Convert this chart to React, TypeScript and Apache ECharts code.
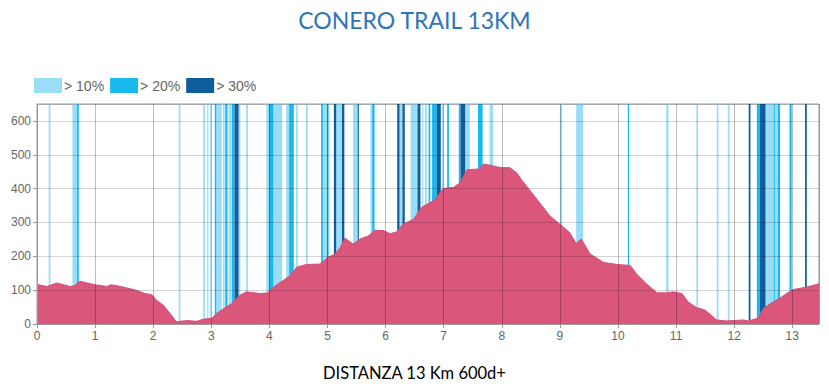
import React, { useEffect, useRef } from "react";
import * as echarts from "echarts";

const titleText = "CONERO TRAIL 13KM";
const subtitleText = "DISTANZA 13 Km 600d+";

const km = [0, 0.17, 0.34, 0.57, 0.64, 0.74, 1.0, 1.2, 1.28, 1.49, 1.72, 1.86, 1.97, 2.06, 2.17, 2.29, 2.4, 2.58, 2.75, 2.86, 3.01, 3.09, 3.26, 3.35, 3.49, 3.61, 3.84, 3.98, 4.07, 4.24, 4.35, 4.47, 4.64, 4.87, 5.01, 5.13, 5.22, 5.3, 5.44, 5.56, 5.7, 5.82, 5.96, 6.08, 6.19, 6.3, 6.48, 6.62, 6.76, 6.85, 6.99, 7.17, 7.28, 7.4, 7.6, 7.69, 7.83, 7.97, 8.14, 8.26, 8.34, 8.46, 8.63, 8.83, 9.0, 9.17, 9.28, 9.37, 9.52, 9.75, 9.98, 10.21, 10.32, 10.49, 10.67, 10.84, 10.95, 11.1, 11.21, 11.35, 11.5, 11.7, 11.87, 12.16, 12.24, 12.41, 12.5, 12.67, 12.79, 12.9, 13.02, 13.25, 13.46];
const elev = [117, 111, 121, 111, 113, 126, 116, 111, 116, 109, 99, 90, 87, 70, 56, 31, 7, 10, 8, 14, 17, 31, 51, 60, 85, 95, 90, 92, 109, 129, 142, 168, 176, 177, 197, 207, 226, 254, 236, 251, 260, 277, 276, 267, 272, 295, 309, 345, 358, 368, 400, 404, 417, 456, 458, 473, 468, 462, 462, 446, 426, 400, 363, 319, 295, 270, 238, 251, 207, 182, 176, 173, 148, 119, 92, 92, 95, 90, 65, 49, 41, 12, 9, 12, 9, 17, 46, 65, 77, 90, 102, 109, 119];

const bands10 = [[0.2, 0.23], [0.61, 0.69], [2.44, 2.47], [2.86, 2.89], [2.93, 2.95], [2.98, 3.0], [3.1, 3.18], [3.2, 3.23], [3.3, 3.34], [3.47, 3.5], [3.6, 3.63], [3.95, 3.99], [4.07, 4.22], [4.29, 4.34], [4.46, 4.49], [4.63, 4.66], [4.92, 4.99], [5.15, 5.25], [5.44, 5.52], [5.74, 5.77], [6.24, 6.29], [6.43, 6.55], [6.63, 6.65], [6.68, 6.71], [6.97, 7.0], [7.37, 7.45], [7.79, 7.85], [9.0, 9.04], [9.28, 9.4], [10.83, 10.87], [11.35, 11.38], [11.7, 11.73], [11.89, 11.92], [12.54, 12.68], [12.7, 12.75], [12.94, 12.96]];
const bands20 = [[0.69, 0.72], [3.06, 3.09], [3.24, 3.28], [3.35, 3.4], [3.99, 4.07], [4.34, 4.42], [4.89, 4.92], [4.99, 5.02], [5.77, 5.81], [6.74, 6.77], [6.8, 6.88], [7.06, 7.09], [7.26, 7.29], [7.59, 7.67], [10.17, 10.19], [12.39, 12.44], [12.68, 12.7], [12.75, 12.79], [12.96, 12.99]];
const bands30 = [[3.4, 3.47], [5.11, 5.15], [5.25, 5.29], [5.52, 5.54], [6.2, 6.24], [6.29, 6.33], [6.55, 6.6], [6.88, 6.95], [7.29, 7.37], [12.25, 12.28], [12.44, 12.54], [13.22, 13.25]];

const bandNames = ["> 10%", "> 20%", "> 30%"];
const bandColors = ["#9BDCF6", "#18B9EF", "#0F5E9C"];

export default function App() {
  const ref = useRef<HTMLDivElement>(null);
  useEffect(() => {
    if (!ref.current) return;
    const chart = echarts.init(ref.current, null, { renderer: "svg" });
    const bandSets = [bands10, bands20, bands30];
    const bandSeries = bandSets.map((set, i) => ({
      name: bandNames[i],
      type: "line",
      data: [],
      z: 1,
      itemStyle: { color: bandColors[i] },
      lineStyle: { color: bandColors[i] },
      markArea: {
        silent: true,
        itemStyle: { color: bandColors[i], opacity: 1 },
        data: set.map(([s, e]) => [{ xAxis: s }, { xAxis: e }]),
      },
    }));
    chart.setOption({
      animation: false,
      title: [
        {
          text: titleText,
          left: "center",
          top: 3,
          textStyle: { fontFamily: "Lato", fontSize: 23, fontWeight: "normal", color: "#2E75B6" },
        },
        {
          text: subtitleText,
          left: "center",
          top: 359,
          textStyle: { fontFamily: "Lato", fontSize: 16.5, fontWeight: "normal", color: "#000" },
        },
      ],
      legend: {
        left: 29,
        top: 73,
        icon: "rect",
        itemWidth: 28,
        itemHeight: 15,
        itemGap: 6,
        data: bandNames,
        textStyle: { fontFamily: "Liberation Sans", fontSize: 14, color: "#666", padding: [0, 0, 0, -3] },
      },
      grid: {
        left: 37,
        right: 10,
        top: 104,
        bottom: 67,
        show: true,
        borderColor: "#999",
        borderWidth: 1,
        backgroundColor: "transparent",
      },
      xAxis: {
        type: "value",
        min: 0,
        max: 13.46,
        interval: 1,
        z: 10,
        axisLine: { show: true, lineStyle: { color: "#999" } },
        axisTick: { show: true, length: 4, lineStyle: { color: "#999" } },
        axisLabel: {
          showMaxLabel: false,
          color: "#666",
          fontFamily: "Liberation Sans",
          fontSize: 12,
          margin: 6,
        },
        splitLine: { show: true, lineStyle: { color: "rgba(0,0,0,0.25)" } },
      },
      yAxis: {
        type: "value",
        min: 0,
        max: 650,
        interval: 100,
        z: 10,
        axisLine: { show: true, lineStyle: { color: "#999" } },
        axisTick: { show: true, length: 4, lineStyle: { color: "#999" } },
        axisLabel: {
          showMaxLabel: false,
          color: "#666",
          fontFamily: "Liberation Sans",
          fontSize: 12,
          margin: 6,
        },
        splitLine: { show: true, lineStyle: { color: "rgba(0,0,0,0.17)" } },
      },
      series: [
        ...bandSeries,
        {
          name: "Altitudine",
          type: "line",
          z: 3,
          data: km.map((k, i) => [k, elev[i]]),
          showSymbol: false,
          symbol: "none",
          smooth: false,
          lineStyle: { color: "#D4507A", width: 1 },
          areaStyle: { color: "#DA577B", opacity: 1 },
        },
      ],
    });
    return () => chart.dispose();
  }, []);
  return <div ref={ref} style={{ width: 829, height: 391, position: "absolute", left: 0, top: 0 }} />;
}
